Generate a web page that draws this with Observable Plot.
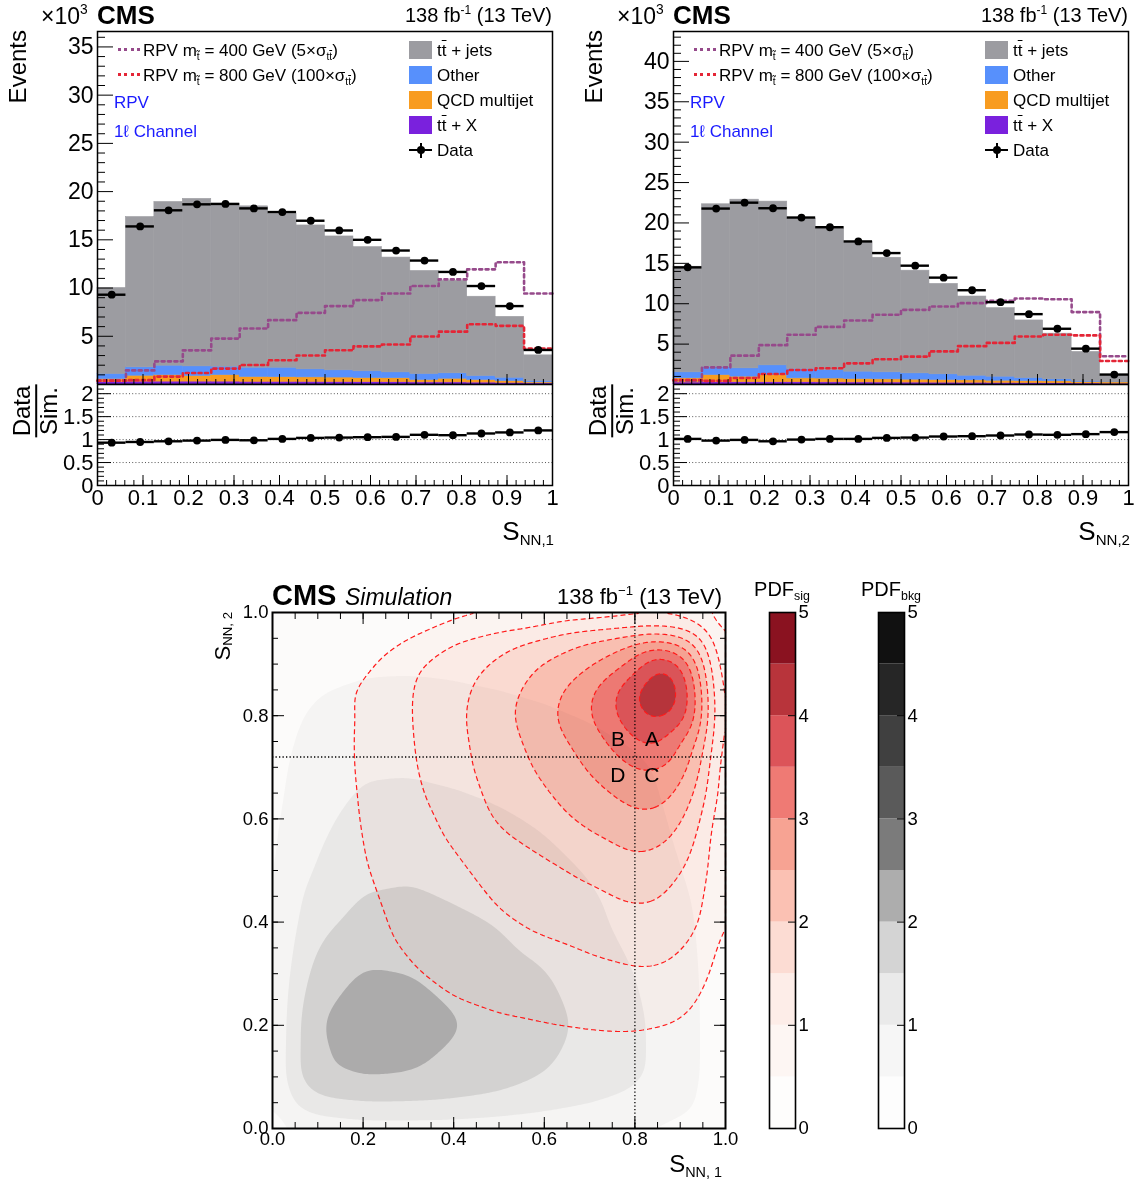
<!DOCTYPE html>
<html><head><meta charset="utf-8">
<script src="https://cdn.jsdelivr.net/npm/d3@7"></script>
<script src="https://cdn.jsdelivr.net/npm/@observablehq/plot@0.6"></script>
<style>
body{margin:0;background:#fff;}
#fig{position:relative;width:1141px;height:1185px;font-family:"Liberation Sans",Arial,Helvetica,sans-serif;color:#000;overflow:hidden;background:#fff}
.abs{position:absolute;white-space:nowrap;line-height:1}
#fig svg{position:absolute}
sub{font-size:.6em;vertical-align:-.35em;line-height:0}
sup{font-size:.6em;vertical-align:.7em;line-height:0}
.ol{text-decoration:overline}
</style></head><body><div id="fig"></div><script>
// ---------------- DATA ----------------
const binEdges = [0,0.0625,0.125,0.1875,0.25,0.3125,0.375,0.4375,0.5,0.5625,0.625,0.6875,0.75,0.8125,0.875,0.9375,1];

// Panel 1 (S_NN,1), events x10^3
const p1_ttjets = [8.91,15.58,16.97,17.36,16.90,16.73,15.93,14.92,13.88,12.87,11.90,10.68,9.60,8.22,6.31,2.66];
const p1_other  = [0.52,0.87,0.97,1.00,0.87,0.96,0.98,0.83,0.75,0.70,0.61,0.62,0.56,0.41,0.34,0.14];
const p1_qcd    = [0.32,0.61,0.68,0.58,0.68,0.50,0.48,0.47,0.46,0.42,0.41,0.25,0.38,0.27,0.19,0.10];
const p1_ttx    = [0.25,0.30,0.30,0.30,0.30,0.28,0.28,0.27,0.26,0.25,0.24,0.22,0.22,0.20,0.17,0.12];
const p1_data   = [9.31,16.39,18.06,18.68,18.72,18.26,17.88,16.98,15.97,15.00,13.89,12.85,11.67,10.21,8.13,3.58];
const p1_ratio  = [0.933,0.948,0.963,0.978,0.993,0.985,1.015,1.037,1.044,1.052,1.059,1.104,1.096,1.133,1.156,1.200];
const p1_rpv400 = [0.42,1.46,2.40,3.54,4.76,5.80,6.67,7.43,8.13,8.75,9.44,10.21,10.90,11.94,12.67,9.44];
const p1_rpv800 = [0.40,0.45,0.82,1.20,1.65,2.02,2.52,3.00,3.55,3.95,4.15,4.97,5.48,6.25,6.08,3.72];

// Panel 2 (S_NN,2)
const p2_ttjets = [13.07,20.18,20.88,20.27,18.62,17.52,16.08,14.18,12.71,11.19,9.80,8.48,7.13,5.65,3.60,0.79];
const p2_other  = [0.75,0.96,1.03,1.20,1.16,1.05,0.91,0.87,0.78,0.70,0.57,0.50,0.37,0.24,0.12,0.04];
const p2_qcd    = [0.51,0.89,0.69,0.89,0.48,0.47,0.42,0.39,0.36,0.33,0.30,0.27,0.25,0.24,0.18,0.17];
const p2_ttx    = [0.25,0.28,0.28,0.28,0.28,0.27,0.26,0.25,0.24,0.23,0.22,0.20,0.18,0.16,0.13,0.10];
const p2_data   = [14.50,21.78,22.51,21.82,20.67,19.47,17.71,16.27,14.71,13.23,11.67,10.19,8.71,6.90,4.44,1.23];
const p2_ratio  = [1.015,0.978,0.993,0.963,1.000,1.015,1.015,1.037,1.044,1.067,1.074,1.089,1.111,1.104,1.119,1.163];
const p2_rpv400 = [0.45,2.12,3.57,4.87,6.15,7.13,7.93,8.63,9.24,9.65,10.07,10.35,10.64,10.56,8.96,3.49];
const p2_rpv800 = [0.55,0.45,0.80,1.30,1.80,2.02,2.62,3.12,3.45,4.10,4.75,5.15,5.95,6.15,6.08,2.90];

const stackNames  = ["ttX","QCD multijet","Other","tt+jets"];
const stackColors = ["#7a21dd","#f89c20","#5790fc","#9c9ca1"];
const rpvColors   = ["#964a8b","#e42536"];

// Tick values
const p1_yMajor = [5,10,15,20,25,30,35];
const p2_yMajor = [5,10,15,20,25,30,35,40];
const ratioMajor = [0,0.5,1,1.5,2];
const ratioGrid = [0.5,1,1.5,2];
const histXMajor = [0,0.1,0.2,0.3,0.4,0.5,0.6,0.7,0.8,0.9,1];
const pdfXMajor = [0,0.2,0.4,0.6,0.8,1];
const cbarLabels = [0,1,2,3,4,5];
const cbarTicks = [1,2,3,4];

const sigXs = [0,0.1,0.2,0.3,0.4,0.5,0.6,0.7,0.75,0.8,0.85,0.9,0.95,1.0];
const sigYs = [0,0.1,0.2,0.3,0.4,0.5,0.6,0.7,0.75,0.8,0.85,0.9,0.95,1.0];
const sigGrid = [
 [0.01,0.02,0.03,0.04,0.05,0.06,0.07,0.07,0.07,0.07,0.07,0.06,0.05,0.03],
 [0.02,0.06,0.10,0.13,0.17,0.20,0.22,0.24,0.25,0.25,0.24,0.22,0.17,0.08],
 [0.04,0.12,0.22,0.30,0.38,0.44,0.48,0.52,0.53,0.53,0.50,0.46,0.35,0.15],
 [0.05,0.15,0.30,0.45,0.60,0.70,0.78,0.87,0.90,0.95,0.95,0.85,0.60,0.25],
 [0.06,0.18,0.38,0.60,0.80,0.95,1.08,1.20,1.28,1.35,1.35,1.22,1.02,0.35],
 [0.08,0.22,0.47,0.68,0.92,1.15,1.40,1.60,1.70,1.82,1.75,1.52,1.25,0.35],
 [0.10,0.25,0.52,0.80,1.12,1.58,1.82,2.12,2.25,2.40,2.40,2.10,1.50,0.35],
 [0.10,0.27,0.55,0.92,1.33,1.73,2.10,2.56,2.80,3.02,3.02,2.80,2.00,0.35],
 [0.12,0.28,0.55,0.95,1.35,1.78,2.22,2.75,3.10,3.50,3.65,2.95,2.30,0.35],
 [0.15,0.30,0.53,0.97,1.38,1.85,2.35,2.98,3.43,3.90,4.20,3.95,2.60,0.35],
 [0.15,0.30,0.55,0.97,1.35,1.78,2.25,2.92,3.40,4.05,4.50,4.20,2.50,0.35],
 [0.12,0.20,0.38,0.90,1.25,1.60,2.05,2.42,2.68,3.20,4.15,3.70,2.20,0.30],
 [0.10,0.15,0.25,0.45,0.95,1.25,1.60,2.00,2.12,2.25,2.35,2.20,1.60,0.30],
 [0.05,0.08,0.12,0.20,0.28,0.35,0.40,0.45,0.48,0.52,0.55,0.55,0.50,0.20]
];
const bkgXs = [0,0.02,0.05,0.1,0.2,0.3,0.4,0.5,0.6,0.7,0.8,0.9,0.95,1.0];
const bkgYs = [0,0.02,0.05,0.1,0.2,0.3,0.4,0.5,0.6,0.7,0.8,0.9,1.0];
const bkgGrid = [
 [0.10,0.25,0.40,0.50,0.55,0.55,0.55,0.52,0.50,0.45,0.40,0.30,0.25,0.10],
 [0.30,0.60,0.85,0.98,1.10,1.10,1.08,1.02,0.90,0.80,0.70,0.55,0.45,0.20],
 [0.30,0.75,1.05,1.35,1.50,1.50,1.45,1.35,1.20,1.03,0.85,0.60,0.45,0.20],
 [0.30,0.85,1.45,1.95,2.05,2.00,1.85,1.70,1.50,1.30,1.10,0.70,0.48,0.20],
 [0.30,0.80,1.40,2.00,2.35,2.30,2.05,1.85,1.65,1.40,1.10,0.70,0.48,0.20],
 [0.30,0.75,1.20,1.70,2.05,2.00,1.85,1.65,1.53,1.30,1.00,0.65,0.48,0.20],
 [0.30,0.70,0.95,1.35,1.65,1.65,1.58,1.48,1.30,1.10,0.85,0.60,0.45,0.20],
 [0.30,0.60,0.80,1.05,1.40,1.45,1.35,1.25,1.12,0.97,0.80,0.50,0.40,0.20],
 [0.30,0.52,0.70,0.90,1.15,1.15,1.12,1.05,0.95,0.80,0.62,0.45,0.35,0.20],
 [0.25,0.45,0.58,0.80,0.95,0.97,0.92,0.85,0.78,0.68,0.55,0.42,0.33,0.20],
 [0.20,0.35,0.45,0.58,0.66,0.68,0.65,0.60,0.54,0.47,0.40,0.32,0.28,0.20],
 [0.15,0.25,0.30,0.38,0.44,0.45,0.43,0.40,0.37,0.33,0.30,0.25,0.22,0.15],
 [0.10,0.12,0.14,0.16,0.18,0.18,0.18,0.17,0.16,0.15,0.14,0.12,0.11,0.10]
];
const pdfLevels = [0,0.5,1,1.5,2,2.5,3,3.5,4,4.5];
const sigColors = ["#fefdfc","#fdf6f3","#fdede8","#fcdcd3","#fbc1b3","#f7a393","#ef7a74","#dc5459","#b8343b","#8a1220"];
const bkgColors = ["#fdfdfd","#f6f6f6","#eaeaea","#d4d4d4","#adadad","#7b7b7b","#5a5a5a","#404040","#262626","#111111"];
const regionCut = [0.8, 0.72];
const regionLabels = [{t:"A",sx:1,sy:1},{t:"B",sx:-1,sy:1},{t:"C",sx:1,sy:-1},{t:"D",sx:-1,sy:-1}];

// ---------------- HELPERS ----------------
const FONT = '"Liberation Sans", Arial, Helvetica, sans-serif';
const fmt = d3.format("~g");
const fig = document.getElementById("fig");
function put(svg, left, top){ svg.style.left = left+"px"; svg.style.top = top+"px"; fig.appendChild(svg); return svg; }
function txt(html, {x, base, size, anchor="start", weight="normal", fstyle="normal", color="#000"}){
  const d = document.createElement("div");
  d.className = "abs"; d.innerHTML = html;
  Object.assign(d.style, {fontSize:size+"px", fontWeight:weight, fontStyle:fstyle, color, top:(base-0.85*size)+"px"});
  if (anchor==="start") d.style.left = x+"px";
  else if (anchor==="end") d.style.right = (1141-x)+"px";
  else { d.style.left = x+"px"; d.style.transform = "translateX(-50%)"; }
  fig.appendChild(d); return d;
}
function vtxt(html, {left, top, size}){
  const d = document.createElement("div");
  d.className = "abs"; d.innerHTML = html;
  Object.assign(d.style, {fontSize:size+"px", left:left+"px", top:top+"px", writingMode:"vertical-rl", transform:"rotate(180deg)"});
  fig.appendChild(d); return d;
}
function box(left, top, w, h, css){
  const d = document.createElement("div");
  Object.assign(d.style, {position:"absolute", left:left+"px", top:top+"px", width:w+"px", height:h+"px"}, css);
  fig.appendChild(d); return d;
}
const range = (a,b,s) => { const r=[]; for(let v=a; v<=b+1e-9; v+=s) r.push(+v.toFixed(4)); return r; };

// ---------------- HISTOGRAM PANELS ----------------
function histPanel(ox, yMax, yMajor, comps, dataV, ratioV, rpv, xsub){
  const bins = binEdges.slice(0,-1).map((lo,i)=>({i, x1:lo, x2:binEdges[i+1], xc:(lo+binEdges[i+1])/2}));
  const rects = [];
  bins.forEach((b,i)=>{ let acc=0; comps.forEach((vals,k)=>{ rects.push({x1:b.x1,x2:b.x2,y1:acc,y2:acc+vals[i],s:stackNames[k]}); acc+=vals[i]; }); });
  const steps = vals => [...bins.map((b,i)=>({x:b.x1, v:vals[i]})), {x:binEdges[binEdges.length-1], v:vals[vals.length-1]}];
  const pts = vals => bins.map((b,i)=>({x1:b.x1,x2:b.x2,xc:b.xc,v:vals[i]}));
  const yMinor = range(1, yMax, 1).filter(v=>v%5!==0);
  const xMinor = range(0, 1, 0.02);
  const main = Plot.plot({
    width:560, height:384, marginLeft:97, marginRight:8, marginTop:31, marginBottom:0,
    x:{domain:[0,1]}, y:{domain:[0,yMax]},
    color:{domain:stackNames, range:stackColors},
    style:{fontFamily:FONT, fontSize:"23px", background:"transparent"},
    marks:[
      Plot.rect(rects, {x1:"x1", x2:"x2", y1:"y1", y2:"y2", fill:"s", stroke:"s", strokeWidth:0.6}),
      Plot.line(steps(rpv[0]), {x:"x", y:"v", curve:"step-after", stroke:rpvColors[0], strokeWidth:2.6, strokeDasharray:"3,3.4"}),
      Plot.line(steps(rpv[1]), {x:"x", y:"v", curve:"step-after", stroke:rpvColors[1], strokeWidth:2.6, strokeDasharray:"3,3.4"}),
      Plot.ruleY(pts(dataV), {x1:"x1", x2:"x2", y:"v", stroke:"#000", strokeWidth:2.4}),
      Plot.dot(pts(dataV), {x:"xc", y:"v", r:3.9, fill:"#000", stroke:null}),
      Plot.axisY(yMinor, {anchor:"left", tickSize:-8, tickFormat:()=>"", label:null}),
      Plot.axisY(yMajor, {anchor:"left", tickSize:-16, tickPadding:20, tickFormat:fmt, label:null, fontSize:23}),
      Plot.axisX(xMinor, {anchor:"bottom", tickSize:-5, tickFormat:()=>"", label:null}),
      Plot.axisX(histXMajor, {anchor:"bottom", tickSize:-10, tickFormat:()=>"", label:null}),
      Plot.frame({stroke:"#000", strokeWidth:1.5})
    ]
  });
  put(main, ox, 0);
  const ratio = Plot.plot({
    width:565, height:140, marginLeft:97, marginRight:13, marginTop:0, marginBottom:39,
    x:{domain:[0,1]}, y:{domain:[0,2.2]},
    style:{fontFamily:FONT, fontSize:"22px", background:"transparent", overflow:"visible"},
    marks:[
      Plot.ruleY(ratioGrid, {stroke:"#444", strokeWidth:0.9, strokeDasharray:"1,2.2"}),
      Plot.ruleY(pts(ratioV), {x1:"x1", x2:"x2", y:"v", stroke:"#000", strokeWidth:2.4}),
      Plot.dot(pts(ratioV), {x:"xc", y:"v", r:3.9, fill:"#000", stroke:null}),
      Plot.axisY(range(0.1,2.2,0.1).filter(v=>Math.abs(v*2-Math.round(v*2))>1e-6), {anchor:"left", tickSize:-7, tickFormat:()=>"", label:null}),
      Plot.axisY(ratioMajor, {anchor:"left", tickSize:-14, tickPadding:18, tickFormat:fmt, label:null, fontSize:22}),
      Plot.axisX(xMinor, {anchor:"bottom", tickSize:-5, tickFormat:()=>"", label:null}),
      Plot.axisX(histXMajor, {anchor:"bottom", tickSize:-10, tickPadding:14, tickFormat:fmt, label:null, fontSize:22}),
      Plot.frame({stroke:"#000", strokeWidth:1.5})
    ]
  });
  put(ratio, ox, 384);

  txt("×10<sup>3</sup>", {x:ox+41, base:25, size:23});
  txt("CMS", {x:ox+97, base:24, size:26, weight:"bold"});
  txt("138 fb<sup>-1</sup> (13 TeV)", {x:ox+552, base:22, size:20, anchor:"end"});
  vtxt("Events", {left:ox+6, top:30, size:24});
  txt("RPV", {x:ox+114, base:108, size:17, color:"#1a1aff"});
  txt("1ℓ Channel", {x:ox+114, base:137, size:17, color:"#1a1aff"});
  const sigLab = [
    "RPV m<sub>t̃</sub> = 400 GeV (5×σ<sub>t<span class='ol'>t</span></sub>)",
    "RPV m<sub>t̃</sub> = 800 GeV (100×σ<sub>t<span class='ol'>t</span></sub>)"
  ];
  sigLab.forEach((h,k)=>{
    box(ox+118, 48+25*k, 23, 3, {background:`repeating-linear-gradient(90deg, ${rpvColors[k]} 0 3px, transparent 3px 6.4px)`});
    txt(h, {x:ox+143, base:56+25*k, size:17});
  });
  const bkgLab = ["t<span class='ol'>t</span> + jets","Other","QCD multijet","t<span class='ol'>t</span> + X"];
  [3,2,1,0].forEach((ci,k)=>{
    box(ox+409, 41+25*k, 23, 18, {background:stackColors[ci]});
    txt(bkgLab[k], {x:ox+437, base:56+25*k, size:17});
  });
  box(ox+409, 149, 23, 2.4, {background:"#000"});
  box(ox+419.5, 143, 2.4, 15, {background:"#000"});
  box(ox+416.5, 146, 8, 8, {background:"#000", borderRadius:"50%"});
  txt("Data", {x:ox+437, base:156, size:17});
  const fr = document.createElement("div");
  fr.className = "abs";
  fr.innerHTML = "<div style='text-align:center;padding:0 1px 1px;border-bottom:2px solid #000;line-height:0.95'>Data</div><div style='text-align:center;line-height:0.95;padding-top:1px'>Sim.</div>";
  Object.assign(fr.style, {fontSize:"24px", left:(ox+36)+"px", top:"411px", transform:"translate(-50%,-50%) rotate(-90deg)"});
  fig.appendChild(fr);
  txt(`S<sub style="font-size:.58em">${xsub}</sub>`, {x:ox+554, base:540, size:26, anchor:"end"});
}

histPanel(0, 36.6, p1_yMajor, [p1_ttx,p1_qcd,p1_other,p1_ttjets], p1_data, p1_ratio, [p1_rpv400,p1_rpv800], "NN,1");
histPanel(576, 43.7, p2_yMajor, [p2_ttx,p2_qcd,p2_other,p2_ttjets], p2_data, p2_ratio, [p2_rpv400,p2_rpv800], "NN,2");

// ---------------- 2D PDF PLOT ----------------
const BKG_OFFSET = 10;
const sigPts = sigGrid.flatMap((row,j)=>row.map((v,i)=>({x:sigXs[i], y:sigYs[j], v})));
const bkgPts = bkgGrid.flatMap((row,j)=>row.map((v,i)=>({x:bkgXs[i], y:bkgYs[j], v:v+BKG_OFFSET})));
const colorDomain = [...pdfLevels.slice(1), 7, ...pdfLevels.slice(1).map(l=>l+BKG_OFFSET)];
const colorRange = [...sigColors, ...bkgColors];
const pdfMinor = range(0,1,0.05);
const cOpts = {x:"x", y:"y", interpolate:"barycentric", blur:5};
const pdfFrame = {width:540, height:610, marginLeft:72, marginRight:15, marginTop:52, marginBottom:42,
  color:{type:"threshold", domain:colorDomain, range:colorRange},
  style:{fontFamily:FONT, fontSize:"18.5px", background:"transparent"}};
const noAxes = {x:{domain:[0,1], axis:null}, y:{domain:[0,1], axis:null}};
// layer 1: background PDF (opaque)
put(Plot.plot({...pdfFrame, ...noAxes, marks:[
  Plot.contour(bkgPts, {...cOpts, fill:"v", thresholds:pdfLevels.map(l=>l+BKG_OFFSET)})
]}), 200, 560);
// layer 2: signal PDF, multiplied over background
const sigLayer = put(Plot.plot({...pdfFrame, ...noAxes, marks:[
  Plot.contour(sigPts, {...cOpts, fill:"v", thresholds:pdfLevels})
]}), 200, 560);
sigLayer.style.mixBlendMode = "multiply";
// layer 3: contour lines, cuts, labels, axes
put(Plot.plot({...pdfFrame, x:{domain:[0,1]}, y:{domain:[0,1]}, marks:[
  Plot.contour(sigPts, {...cOpts, value:"v", thresholds:pdfLevels.slice(1), fill:"none", stroke:"#ff1a1a", strokeWidth:1.2, strokeDasharray:"5,3"}),
  Plot.ruleX([regionCut[0]], {stroke:"#000", strokeWidth:1.3, strokeDasharray:"1.3,2.2"}),
  Plot.ruleY([regionCut[1]], {stroke:"#000", strokeWidth:1.3, strokeDasharray:"1.3,2.2"}),
  ...regionLabels.map(l => Plot.text([l], {x:()=>regionCut[0], y:()=>regionCut[1], text:"t", dx:l.sx*17, dy:-l.sy*18, fontSize:21, fill:"#000"})),
  Plot.axisX(pdfMinor, {anchor:"bottom", tickSize:-6, tickFormat:()=>"", label:null}),
  Plot.axisX(pdfXMajor, {anchor:"bottom", tickSize:-11, tickPadding:14, tickFormat:d3.format(".1f"), label:null}),
  Plot.axisX(pdfMinor, {anchor:"top", tickSize:-6, tickFormat:()=>"", label:null}),
  Plot.axisX(pdfXMajor, {anchor:"top", tickSize:-11, tickFormat:()=>"", label:null}),
  Plot.axisY(pdfMinor, {anchor:"left", tickSize:-6, tickFormat:()=>"", label:null}),
  Plot.axisY(pdfXMajor, {anchor:"left", tickSize:-12, tickPadding:16, tickFormat:d3.format(".1f"), label:null}),
  Plot.axisY(pdfMinor, {anchor:"right", tickSize:-6, tickFormat:()=>"", label:null}),
  Plot.axisY(pdfXMajor, {anchor:"right", tickSize:-12, tickFormat:()=>"", label:null}),
  Plot.frame({stroke:"#000", strokeWidth:2})
]}), 200, 560);

function colorbar(colors, left){
  const bands = pdfLevels.map((lo,i)=>({lo, hi: i<pdfLevels.length-1 ? pdfLevels[i+1] : cbarLabels[cbarLabels.length-1], c:colors[i]}));
  const cb = Plot.plot({
    width:80, height:610, marginLeft:9, marginRight:45, marginTop:52, marginBottom:42,
    y:{domain:[0,5]}, color:{type:"identity"},
    style:{fontFamily:FONT, fontSize:"18.5px", background:"transparent"},
    marks:[
      Plot.rect(bands, {y1:"lo", y2:"hi", fill:"c"}),
      Plot.axisY(cbarTicks, {anchor:"right", tickSize:-8, tickFormat:()=>"", label:null}),
      Plot.axisY(cbarLabels, {anchor:"right", tickSize:0, tickPadding:3, tickFormat:d3.format("d"), label:null}),
      Plot.frame({stroke:"#000", strokeWidth:1.6})
    ]
  });
  put(cb, left, 560);
}
colorbar(sigColors, 760);
colorbar(bkgColors, 869);

txt("CMS", {x:272, base:606, size:29, weight:"bold"});
txt("Simulation", {x:345, base:606, size:23, fstyle:"italic"});
txt("138 fb<sup>−1</sup> (13 TeV)", {x:722, base:605, size:22, anchor:"end"});
vtxt("S<sub style='font-size:.6em'>NN, 2</sub>", {left:212, top:612, size:22});
txt("S<sub style='font-size:.6em'>NN, 1</sub>", {x:722, base:1172, size:24, anchor:"end"});
txt("PDF<sub style='font-size:.62em'>sig</sub>", {x:782, base:596, size:20, anchor:"middle"});
txt("PDF<sub style='font-size:.62em'>bkg</sub>", {x:891, base:596, size:20, anchor:"middle"});
</script></body></html>
